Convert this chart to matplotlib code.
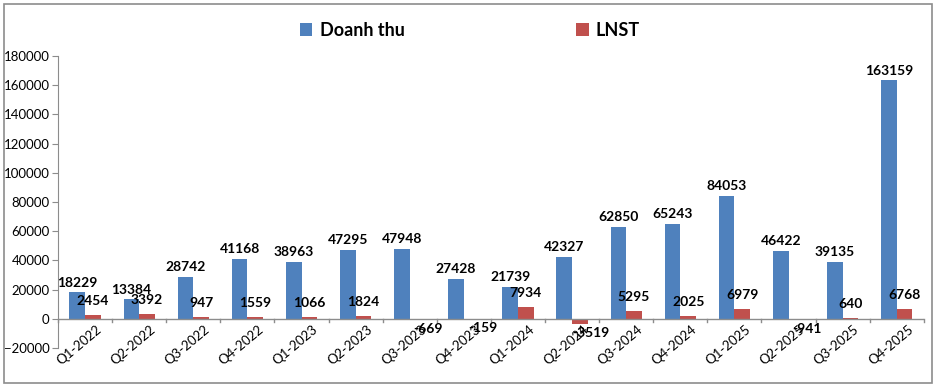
import matplotlib
matplotlib.use("Agg")
import matplotlib.pyplot as plt
import numpy as np
from matplotlib.patches import Rectangle

quarters = ["Q1-2022", "Q2-2022", "Q3-2022", "Q4-2022", "Q1-2023", "Q2-2023", "Q3-2023", "Q4-2023",
            "Q1-2024", "Q2-2024", "Q3-2024", "Q4-2024", "Q1-2025", "Q2-2025", "Q3-2025", "Q4-2025"]
doanh_thu = [18229, 13384, 28742, 41168, 38963, 47295, 47948, 27428,
             21739, 42327, 62850, 65243, 84053, 46422, 39135, 163159]
lnst = [2454, 3392, 947, 1559, 1066, 1824, -669, -159,
        7934, -3519, 5295, 2025, 6979, -941, 640, 6768]

plt.rcParams['font.family'] = ['Lato', 'DejaVu Sans']
blue = "#4F81BD"
red = "#C0504D"

fig = plt.figure(figsize=(9.36, 3.88), dpi=100)
fig.patches.append(Rectangle((0.004, 0.012), 0.992, 0.977, transform=fig.transFigure,
                             fill=False, edgecolor="#8c8c8c", linewidth=1.2))
ax = fig.add_axes([0.062, 0.103, 0.925, 0.753])

x = np.arange(len(quarters))
w = 0.29
b1 = ax.bar(x - w / 2, doanh_thu, w, color=blue, label="Doanh thu")
b2 = ax.bar(x + w / 2, lnst, w, color=red, label="LNST")

for xi, q in zip(x, quarters):
    ax.text(xi + 0.2, -3000, q, rotation=40, ha="right", va="top", fontsize=9.5,
            rotation_mode="anchor", zorder=3)

for xi, v in zip(x, doanh_thu):
    ax.text(xi - w / 2, v + 2500, f"{v}", ha="center", va="bottom", fontsize=10,
            fontweight="bold", zorder=5)
for xi, v in zip(x, lnst):
    if v >= 0:
        ax.text(xi + w / 2, v + 5500, f"{v}", ha="center", va="bottom", fontsize=10,
                fontweight="bold", zorder=5)
    else:
        ax.text(xi + w / 2 + 0.2, v - 2000, f"{v}", ha="center", va="top", fontsize=10,
                fontweight="bold", zorder=5)

ax.set_xlim(-0.5, len(quarters) - 0.5)
ax.set_ylim(-20000, 180000)
ax.set_yticks(np.arange(-20000, 180001, 20000))
ax.tick_params(axis="y", labelsize=9.5, length=4, color="#8c8c8c", pad=2)

for s in ["top", "right", "bottom"]:
    ax.spines[s].set_visible(False)
ax.spines["left"].set_color("#8c8c8c")
ax.axhline(0, color="#8c8c8c", linewidth=1)

ax.set_xticks(x)
ax.set_xticklabels([])
ax.tick_params(axis="x", length=0)
for xi in np.arange(-0.5, len(quarters), 1.0):
    ax.plot([xi, xi], [0, -2200], color="#8c8c8c", linewidth=1, clip_on=False)

fig.legend(handles=[b1, b2], labels=["Doanh thu", "LNST"], loc="upper center",
           bbox_to_anchor=(0.502, 0.985), ncol=2, frameon=False,
           prop={"size": 13, "weight": "bold"}, handlelength=0.7, handleheight=0.7,
           columnspacing=9.5, handletextpad=0.4)

fig.savefig("out.png", dpi=100)
